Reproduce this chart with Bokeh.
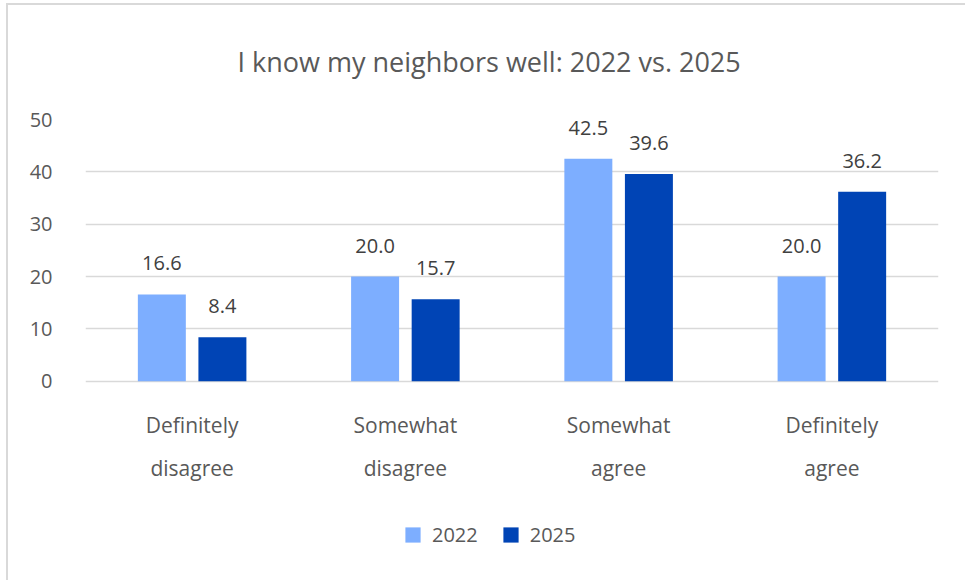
from bokeh.plotting import figure
from bokeh.models import ColumnDataSource, FactorRange, Range1d, LabelSet, Legend, LegendItem, FixedTicker, InlineStyleSheet
from bokeh.core.properties import value
from bokeh.transform import dodge
from bokeh.embed import file_html
from bokeh.resources import INLINE

categories = ["Definitely disagree", "Somewhat disagree", "Somewhat agree", "Definitely agree"]
label_line1 = ["Definitely", "Somewhat", "Somewhat", "Definitely"]
label_line2 = ["disagree", "disagree", "agree", "agree"]
series_names = ["2022", "2025"]
values_2022 = [16.6, 20.0, 42.5, 20.0]
values_2025 = [8.4, 15.7, 39.6, 36.2]
y_ticks = [0, 10, 20, 30, 40, 50]

c2022 = "#7DAEFF"
c2025 = "#0044B5"
text_gray = "#595959"
FONT = "Open Sans"

src = ColumnDataSource(dict(
    cat=categories,
    base=[0] * len(categories),
    line1=label_line1,
    line2=label_line2,
    v22=values_2022,
    v25=values_2025,
    l22=[f"{v:.1f}" for v in values_2022],
    l25=[f"{v:.1f}" for v in values_2025],
))

# frame runs from y=117 to the bottom of the canvas; 0..50 occupies 263 px
px_per_unit = 263 / 50
y_bottom = -200 / px_per_unit

p = figure(x_range=FactorRange(*categories, range_padding=0), y_range=Range1d(y_bottom, 50),
           width=965, height=580, output_backend="svg", toolbar_location=None,
           min_border_left=85, min_border_right=27, min_border_top=117, min_border_bottom=0)

p.title.text = "I know my neighbors well: 2022 vs. 2025"
p.title.align = "left"
p.title.offset = 152
p.title.text_font = FONT
p.title.text_font_size = "27px"
p.title.text_font_style = "normal"
p.title.text_color = text_gray
p.title.standoff = 80

r1 = p.vbar(x=dodge("cat", -0.142, range=p.x_range), top="v22", width=0.225, source=src,
            fill_color=c2022, line_color=None)
r2 = p.vbar(x=dodge("cat", 0.142, range=p.x_range), top="v25", width=0.225, source=src,
            fill_color=c2025, line_color=None)

for col, lab, off in (("v22", "l22", -0.142), ("v25", "l25", 0.142)):
    p.add_layout(LabelSet(x=dodge("cat", off, range=p.x_range), y=col, text=lab, source=src,
                          y_offset=31, text_align="center", text_baseline="middle",
                          text_font=value(FONT), text_font_size=value("20px"), text_color="#404040"))

for lab, off in (("line1", -44), ("line2", -87)):
    p.add_layout(LabelSet(x="cat", y="base", text=lab, source=src,
                          y_offset=off, text_align="center", text_baseline="middle",
                          text_font=value(FONT), text_font_size=value("21px"), text_color=text_gray))

p.outline_line_color = None
p.xgrid.grid_line_color = None
p.ygrid.grid_line_color = "#D9D9D9"
p.ygrid.grid_line_width = 1.5
p.yaxis.ticker = FixedTicker(ticks=y_ticks)
p.xaxis.visible = False

yax = p.yaxis[0]
yax.axis_line_color = None
yax.major_tick_line_color = None
yax.minor_tick_line_color = None
yax.major_label_text_font = FONT
yax.major_label_text_color = text_gray
yax.major_label_text_font_size = "20px"
yax.major_label_standoff = 27

legend = Legend(items=[LegendItem(label=series_names[0], renderers=[r1]),
                       LegendItem(label=series_names[1], renderers=[r2])],
                orientation="horizontal", location=(318, 32),
                glyph_width=19, glyph_height=19, label_standoff=10, spacing=23,
                label_text_font=FONT, label_text_font_size="20px", label_text_color=text_gray,
                border_line_color=None, background_fill_alpha=0, margin=0, padding=0)
p.add_layout(legend)

p.background_fill_color = "white"
p.border_fill_color = "white"

# light chart-area border (top and left edges visible in the reference crop)
p.stylesheets = [InlineStyleSheet(css=(
    ":host { position: relative; }"
    ":host::after { content: ''; position: absolute; left: 6px; top: 3px; right: 0; bottom: 0;"
    " border-top: 2px solid #D9D9D9; border-left: 2px solid #D9D9D9; pointer-events: none; }"
))]

open("out.html", "w").write(file_html(p, INLINE))
